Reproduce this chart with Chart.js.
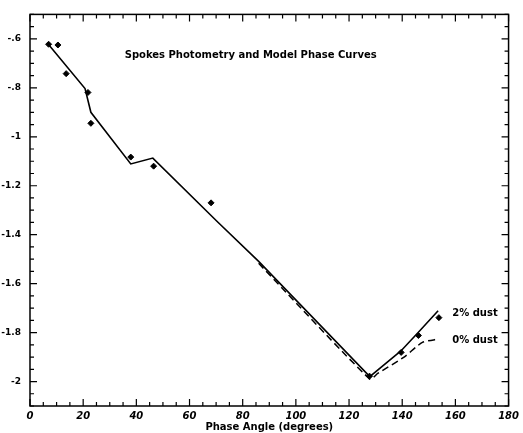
<!DOCTYPE html>
<html>
<head>
<meta charset="utf-8">
<script src="https://cdn.jsdelivr.net/npm/chart.js@4/dist/chart.umd.min.js"></script>
<style>
  body { margin: 0; background: #fff; }
</style>
</head>
<body>
<canvas id="phaseChart" width="523" height="433"></canvas>
<script>
// Spokes photometry (measured points)
const obsPhase = [7, 10.5, 13.6, 21.8, 22.9, 37.9, 46.5, 68.1, 127.7, 139.6, 146.1, 153.8];
const obsMag = [-0.622, -0.625, -0.742, -0.819, -0.945, -1.083, -1.12, -1.27, -1.978, -1.881, -1.812, -1.739];

// model phase curve, 2% dust (solid)
const dust2Phase = [6.5, 20.7, 22.9, 37.9, 46.2, 70.4, 86, 127.8, 139.5, 146, 153.5];
const dust2Mag = [-0.617, -0.803, -0.9, -1.111, -1.087, -1.346, -1.509, -1.98, -1.875, -1.8, -1.711];

// model phase curve, 0% dust (dashed)
const dust0Phase = [86, 127.8, 130.8, 140.7, 147.6, 153.8];
const dust0Mag = [-1.517, -1.99, -1.967, -1.9, -1.84, -1.826];

const xTicks = [0, 20, 40, 60, 80, 100, 120, 140, 160, 180];
const yTicks = [-2, -1.8, -1.6, -1.4, -1.2, -1, -0.8, -0.6];
const yTickLabels = ['-2', '-1.8', '-1.6', '-1.4', '-1.2', '-1', '-.8', '-.6'];

const ctx = document.getElementById('phaseChart').getContext('2d');

function pairs(xs, ys) {
    return xs.map((x, i) => ({ x: x, y: ys[i] }));
}

// frame + inward ticks on all four sides, plus the text inside the plot
const framePlugin = {
    id: 'frame',
    afterDraw(chart) {
        const { ctx, chartArea: a, scales } = chart;
        const xs = scales.x, ys = scales.y;
        ctx.save();
        ctx.strokeStyle = '#000';
        ctx.lineWidth = 1.5;
        ctx.strokeRect(a.left, a.top, a.right - a.left, a.bottom - a.top);
        ctx.lineWidth = 1.2;
        ctx.beginPath();
        for (let v = 0; v <= 180; v += 5) {
            const px = xs.getPixelForValue(v);
            const len = v % 20 === 0 ? 7 : 4;
            ctx.moveTo(px, a.bottom); ctx.lineTo(px, a.bottom - len);
            ctx.moveTo(px, a.top); ctx.lineTo(px, a.top + len);
        }
        for (let k = -42; k <= -10; k++) {
            const v = k * 0.05;
            const py = ys.getPixelForValue(v);
            const len = k % 4 === 0 ? 7 : 4;
            ctx.moveTo(a.left, py); ctx.lineTo(a.left + len, py);
            ctx.moveTo(a.right, py); ctx.lineTo(a.right - len, py);
        }
        ctx.stroke();

        ctx.fillStyle = '#000';
        ctx.font = 'bold 10px "DejaVu Sans"';
        ctx.textBaseline = 'middle';
        ctx.textAlign = 'center';
        ctx.fillText('Spokes Photometry and Model Phase Curves', xs.getPixelForValue(83), ys.getPixelForValue(-0.668));
        ctx.textAlign = 'left';
        ctx.fillText('2% dust', xs.getPixelForValue(158.8), ys.getPixelForValue(-1.72));
        ctx.fillText('0% dust', xs.getPixelForValue(158.8), ys.getPixelForValue(-1.83));
        ctx.restore();
    }
};

new Chart(ctx, {
    type: 'scatter',
    data: {
        datasets: [
            {
                label: '0% dust',
                data: pairs(dust0Phase, dust0Mag),
                showLine: true,
                borderColor: '#000',
                borderWidth: 1.5,
                borderDash: [7, 4],
                pointRadius: 0,
                tension: 0.2
            },
            {
                label: '2% dust',
                data: pairs(dust2Phase, dust2Mag),
                showLine: true,
                borderColor: '#000',
                borderWidth: 1.6,
                pointRadius: 0,
                tension: 0
            },
            {
                label: 'Spokes',
                data: pairs(obsPhase, obsMag),
                showLine: false,
                pointStyle: 'rectRot',
                pointRadius: 3,
                backgroundColor: '#000',
                borderColor: '#000',
                borderWidth: 1
            }
        ]
    },
    options: {
        responsive: false,
        animation: false,
        layout: { padding: { top: 13, right: 11, left: 0, bottom: 0 } },
        scales: {
            x: {
                type: 'linear',
                min: 0,
                max: 180,
                afterBuildTicks: s => { s.ticks = xTicks.map(v => ({ value: v })); },
                afterFit: s => { s.height = 27; },
                grid: { display: false, drawTicks: false },
                border: { display: false },
                ticks: {
                    color: '#000',
                    padding: 4,
                    maxRotation: 0,
                    font: { family: 'DejaVu Sans', size: 10, weight: 'bold', style: 'italic' }
                },
                title: {
                    display: true,
                    text: 'Phase Angle (degrees)',
                    color: '#000',
                    padding: 0,
                    font: { family: 'DejaVu Sans', size: 10, weight: 'bold' }
                }
            },
            y: {
                type: 'linear',
                min: -2.1,
                max: -0.5,
                afterBuildTicks: s => { s.ticks = yTicks.map(v => ({ value: v })); },
                afterFit: s => { s.width = 30; },
                grid: { display: false, drawTicks: false },
                border: { display: false },
                ticks: {
                    color: '#000',
                    padding: 9,
                    callback: (v) => yTickLabels[yTicks.indexOf(v)],
                    font: { family: 'DejaVu Sans', size: 9, weight: 'bold' }
                }
            }
        },
        plugins: {
            legend: { display: false },
            tooltip: { enabled: false }
        }
    },
    plugins: [framePlugin]
});
</script>
</body>
</html>
